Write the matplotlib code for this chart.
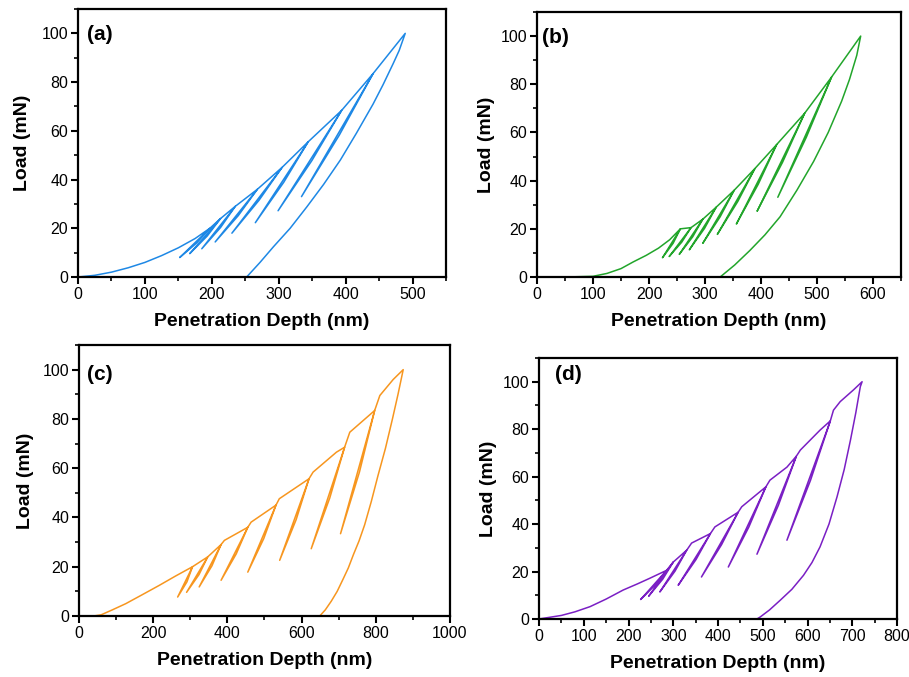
import numpy as np
import matplotlib
matplotlib.use('Agg')
import matplotlib.pyplot as plt
from matplotlib.ticker import MultipleLocator

plt.rcParams['font.family'] = ['Liberation Sans', 'DejaVu Sans']

# (a) loading envelope, partial unloads (index of the peak on the envelope + end point), final unload
a_env_depth = [0, 25, 50, 75, 100, 125, 150, 175, 197, 213, 235, 268, 305, 344, 394, 441, 489]
a_env_load = [0, 0.7, 2, 3.8, 6, 8.8, 12, 15.8, 20, 24, 29, 36, 45, 55.5, 68.4, 83.5, 100]
a_peak_idx = [8, 9, 10, 11, 12, 13, 14, 15]
a_min_depth = [152, 167, 185, 205, 230, 265, 299, 334]
a_min_load = [8, 9.6, 11.6, 14.4, 18, 22.3, 27.2, 33]
a_unl_depth = [489, 480, 471, 456, 441, 416, 392, 367, 342, 317, 292, 272, 252, 110]
a_unl_load = [100, 93, 87.6, 79, 71, 59, 48, 38, 28.8, 20, 12.4, 6, 0, 0]

# (b)
b_env_depth = [0, 50, 100, 125, 150, 172, 195, 217, 237, 256, 275, 296, 320, 352, 389, 428, 478, 526, 578]
b_env_load = [0, 0, 0.3, 1.5, 3.5, 6.3, 9, 12, 15.5, 20, 20.5, 24, 29, 36, 45, 55, 68, 83, 100]
b_peak_idx = [9, 10, 11, 12, 13, 14, 15, 16, 17]
b_min_depth = [224, 236, 254, 272, 296, 322, 356, 393, 430]
b_min_load = [8, 8.5, 9.4, 11.3, 14, 17.7, 22, 27.3, 33.1]
b_unl_depth = [578, 571, 558, 544, 520, 494, 464, 434, 407, 380, 353, 327]
b_unl_load = [100, 92, 82, 73, 60, 48, 36, 25, 17.5, 11, 5, 0]

# (c)
c_env_depth = [0, 40, 60, 90, 126, 170, 216, 260, 306, 347, 383, 392, 455, 464, 531, 540, 620, 631,
               694, 716, 730, 797, 811, 847, 874]
c_env_load = [0, 0, 0.5, 2.5, 5, 8.6, 12.4, 16.2, 20, 24, 29, 30.7, 36, 38.1, 45, 47.6, 55.7, 58.4,
              66.5, 68.5, 74.6, 83.4, 89.5, 96, 100]
c_peak_idx = [8, 9, 10, 12, 14, 16, 19, 21]
c_min_depth = [266, 290, 324, 383, 455, 541, 626, 705]
c_min_load = [7.7, 9.6, 11.8, 14.5, 17.8, 22.6, 27.3, 33.4]
c_unl_depth = [874, 860, 845, 826, 806, 788, 770, 755, 740, 726, 712, 696, 680, 664, 649]
c_unl_load = [100, 90, 80, 68, 57, 46.5, 37, 30.5, 25, 19.5, 15, 10, 6, 2.5, 0]

# (d)
d_env_depth = [0, 50, 80, 114, 150, 188, 220, 248, 285, 300, 330, 341, 383, 393, 445, 453, 507, 516,
               554, 575, 584, 628, 651, 658, 673, 703, 722]
d_env_load = [0, 1.5, 3, 5.2, 8.4, 12.2, 14.8, 17.2, 20.5, 24, 29, 32, 36, 38.8, 45, 47.3, 55.7, 58.5,
              64, 68.6, 71.2, 79.6, 83.5, 88, 91.6, 96.6, 100]
d_peak_idx = [8, 9, 10, 12, 14, 16, 19, 22]
d_min_depth = [227, 245, 270, 311, 363, 423, 487, 554]
d_min_load = [8.2, 9.6, 11.4, 14.2, 17.7, 21.9, 27.3, 33.2]
d_unl_depth = [722, 718, 708, 696, 682, 666, 648, 628, 610, 591, 565, 539, 515, 494, 487, 60]
d_unl_load = [100, 97.9, 87, 75.4, 63, 51.5, 40, 30.4, 23.8, 18.4, 12.5, 7.9, 3.8, 0.8, 0, 0]


def build_path(env_d, env_p, peak_idx, min_d, min_p, unl_d, unl_p, loop):
    # walk the loading curve, dropping into an unload/reload loop at each partial peak
    cycles = dict(zip(peak_idx, zip(min_d, min_p)))
    xs, ys = [], []
    for i, (d, p) in enumerate(zip(env_d, env_p)):
        xs.append(d)
        ys.append(p)
        if i in cycles:
            md, mp = cycles[i]
            xs += [(d + md) / 2 + loop, md, d]
            ys += [(p + mp) / 2, mp, p]
    xs += unl_d
    ys += unl_p
    return np.array(xs), np.array(ys)


panels = [
    ('(a)', '#1E88E5', [0.0858, 0.5908, 0.4049, 0.3959], 550, 100, 50, 3, 8,
     (a_env_depth, a_env_load, a_peak_idx, a_min_depth, a_min_load, a_unl_depth, a_unl_load), (0.025, 0.905)),
    ('(b)', '#22A52B', [0.5908, 0.5908, 0.4004, 0.3915], 650, 100, 50, 3, 4,
     (b_env_depth, b_env_load, b_peak_idx, b_min_depth, b_min_load, b_unl_depth, b_unl_load), (0.015, 0.905)),
    ('(c)', '#F7961F', [0.0869, 0.0901, 0.4081, 0.4003], 1000, 200, 100, 5, 6,
     (c_env_depth, c_env_load, c_peak_idx, c_min_depth, c_min_load, c_unl_depth, c_unl_load), (0.022, 0.89)),
    ('(d)', '#7A1FC4', [0.5930, 0.0857, 0.3938, 0.3855], 800, 100, 50, 4, 4,
     (d_env_depth, d_env_load, d_peak_idx, d_min_depth, d_min_load, d_unl_depth, d_unl_load), (0.045, 0.935)),
]

fig = plt.figure(figsize=(9.09, 6.77), dpi=100)

for tag, color, rect, xmax, xmaj, xmin, loop, ypad, data, tagpos in panels:
    ax = fig.add_axes(rect)
    x, y = build_path(*data, loop)
    ax.plot(x, y, color=color, lw=1.1, zorder=1)
    ax.set_xlim(0, xmax)
    ax.set_ylim(0, 110)
    ax.xaxis.set_major_locator(MultipleLocator(xmaj))
    ax.xaxis.set_minor_locator(MultipleLocator(xmin))
    ax.yaxis.set_minor_locator(MultipleLocator(10))
    ax.set_yticks([0, 20, 40, 60, 80, 100])
    for s in ax.spines.values():
        s.set_linewidth(1.6)
        s.set_zorder(3)
    ax.tick_params(which='major', direction='out', length=5, width=1.5, labelsize=11.5, pad=2)
    ax.tick_params(which='minor', direction='out', length=3, width=1.2)
    ax.set_xlabel('Penetration Depth (nm)', fontsize=14, fontweight='bold', labelpad=8)
    ax.set_ylabel('Load (mN)', fontsize=14, fontweight='bold', labelpad=ypad)
    ax.text(tagpos[0], tagpos[1], tag, transform=ax.transAxes, fontsize=15, fontweight='bold',
            family=['Liberation Sans Narrow', 'Liberation Sans'], va='center', ha='left')

fig.savefig('out.png', dpi=100)
